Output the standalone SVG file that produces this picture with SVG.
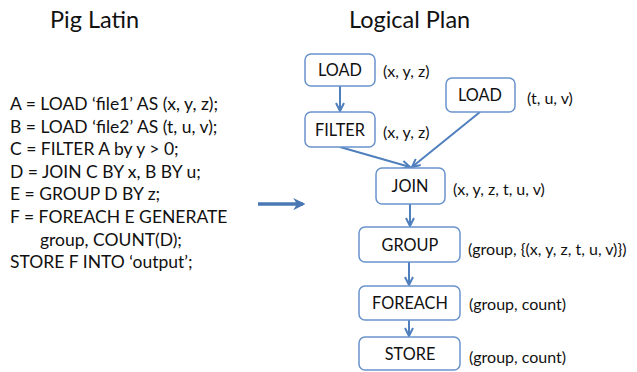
<svg xmlns="http://www.w3.org/2000/svg" width="637" height="372" viewBox="0 0 637 372">
<style>
text{font-family:Lato,"Open Sans","Liberation Sans",sans-serif;fill:#111}
.title{font-size:23.5px}
.code{font-size:17.5px}
.node rect{fill:#fff;stroke:#6a93cb;stroke-width:1.5}
.node text{font-size:16.3px;text-anchor:middle}
.lbl{font-size:16px}
.edge{stroke:#4f7fbd;stroke-width:2;fill:none;marker-end:url(#ah)}
</style>
<defs>
<marker id="ah" viewBox="0 0 10 10" refX="9" refY="5" markerWidth="5" markerHeight="5" orient="auto" markerUnits="strokeWidth">
<path d="M1,1 L9,5 L1,9" fill="none" stroke="#4f7fbd" stroke-width="2"/>
</marker>
<marker id="bigah" viewBox="0 0 10 10" refX="8" refY="5" markerWidth="3.5" markerHeight="4" orient="auto" markerUnits="strokeWidth">
<path d="M0,0 L10,5 L0,10 L3,5 Z" fill="#4a78b4"/>
</marker>
</defs>
<text class="title" x="50" y="28">Pig Latin</text>
<text class="title" x="349" y="28">Logical Plan</text>
<g id="code" class="code">
<text x="10" y="110">A = LOAD ‘file1’ AS (x, y, z);</text>
<text x="10" y="132.6">B = LOAD ‘file2’ AS (t, u, v);</text>
<text x="10" y="155.2">C = FILTER A by y &gt; 0;</text>
<text x="10" y="177.8">D = JOIN C BY x, B BY u;</text>
<text x="10" y="200.4">E = GROUP D BY z;</text>
<text x="10" y="223">F = FOREACH E GENERATE</text>
<text x="40" y="245.6">group, COUNT(D);</text>
<text x="10" y="268.2">STORE F INTO ‘output’;</text>
</g>
<g id="connectors">
<line x1="258" y1="204" x2="303" y2="204" stroke="#4a78b4" stroke-width="3.5" marker-end="url(#bigah)"/>
<path class="edge" d="M340,86 L340,111"/>
<path class="edge" d="M340,147 L410,167"/>
<path class="edge" d="M480,112 L412,167"/>
<path class="edge" d="M410,204 L410,226"/>
<path class="edge" d="M409,262 L409,285"/>
<path class="edge" d="M409,320 L409,336"/>
</g>
<g id="load1" class="node"><rect x="305" y="54" width="70" height="32" rx="6"/><text x="340" y="76">LOAD</text></g>
<g id="filter" class="node"><rect x="305" y="112" width="70" height="35" rx="6"/><text x="340" y="135.5">FILTER</text></g>
<g id="load2" class="node"><rect x="446" y="78" width="69" height="34" rx="6"/><text x="480" y="101">LOAD</text></g>
<g id="join" class="node"><rect x="376" y="168" width="69" height="36" rx="6"/><text x="410" y="192">JOIN</text></g>
<g id="group" class="node"><rect x="359" y="227" width="101" height="35" rx="6"/><text x="410" y="250.5">GROUP</text></g>
<g id="foreach" class="node"><rect x="359" y="286" width="101" height="34" rx="6"/><text x="410" y="308.5">FOREACH</text></g>
<g id="store" class="node"><rect x="359" y="337" width="101" height="33" rx="6"/><text x="410" y="359.5">STORE</text></g>
<g id="labels" class="lbl">
<text x="383" y="77">(x, y, z)</text>
<text x="527" y="104">(t, u, v)</text>
<text x="383" y="138">(x, y, z)</text>
<text x="453" y="195">(x, y, z, t, u, v)</text>
<text x="468" y="255">(group, {(x, y, z, t, u, v)})</text>
<text x="469" y="310">(group, count)</text>
<text x="469" y="363">(group, count)</text>
</g>
</svg>
